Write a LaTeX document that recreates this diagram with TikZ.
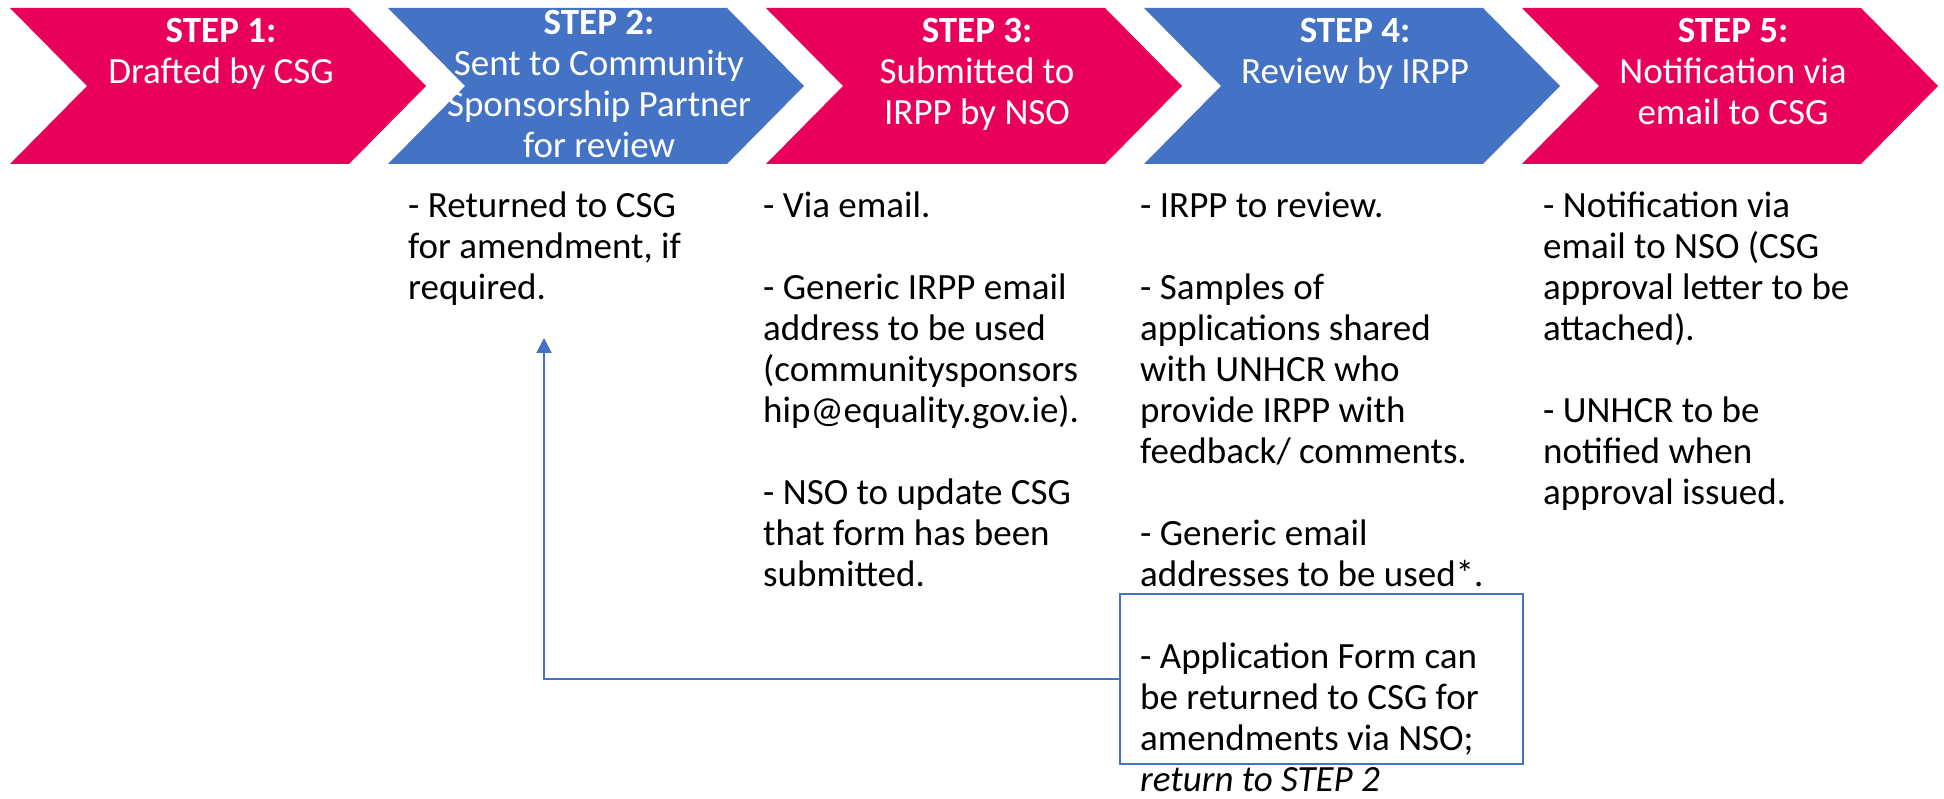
\documentclass[tikz,border=0pt]{standalone}
\usepackage{fontspec}
\setmainfont{Carlito}
\usetikzlibrary{arrows.meta}
\definecolor{stpink}{HTML}{E9005A}
\definecolor{stblue}{HTML}{4472C4}
\tikzset{
  chevtext/.style={anchor=base, inner sep=0pt, text=white, font=\fontsize{37pt}{41pt}\selectfont},
  coltext/.style={anchor=base west, inner sep=0pt, text=black, font=\fontsize{37pt}{41pt}\selectfont},
  retbox/.style={draw=stblue, line width=2pt, minimum width=403pt, minimum height=170pt, inner sep=0pt},
  retarrow/.style={draw=stblue, line width=2pt, -{Triangle[width=15pt,length=15pt]}},
}
\newcommand{\ctext}[1]{\parbox[t]{410pt}{\lineskiplimit=-20pt\centering #1}}
\newcommand{\ltext}[1]{\parbox[t]{460pt}{\lineskiplimit=-20pt\raggedright #1}}
\begin{document}
\begin{tikzpicture}[x=1pt,y=-1pt]
\useasboundingbox (0,0) rectangle (1944,799);
% chevrons
\foreach \L/\c in {10/stpink, 388/stblue, 766/stpink, 1144/stblue, 1522/stpink}{
  \fill[\c] (\L,8) -- ++(339,0) -- ++(77,78) -- ++(-77,78) -- ++(-339,0) -- ++(77,-78) -- cycle;
}
\node[chevtext] (s1) at (221,43) {\ctext{\textbf{STEP 1:}\\ Drafted by CSG}};
\node[chevtext] (s2) at (599,35) {\ctext{\textbf{STEP 2:}\\ Sent to Community\\ Sponsorship Partner\\ for review}};
\node[chevtext] (s3) at (977,43) {\ctext{\textbf{STEP 3:}\\ Submitted to\\ IRPP by NSO}};
\node[chevtext] (s4) at (1355,43) {\ctext{\textbf{STEP 4:}\\ Review by IRPP}};
\node[chevtext] (s5) at (1733,43) {\ctext{\textbf{STEP 5:}\\ Notification via\\ email to CSG}};
% column texts
\node[coltext] (c2) at (408,218) {\ltext{- Returned to CSG\\ for amendment, if\\ required.}};
\node[coltext] (c3) at (763,218) {\ltext{- Via email.\\ \mbox{}\\ - Generic IRPP email\\ address to be used\\ (communitysponsors\\ hip@equality.gov.ie).\\ \mbox{}\\ - NSO to update CSG\\ that form has been\\ submitted.}};
\node[coltext] (c4) at (1140,218) {\ltext{- IRPP to review.\\ \mbox{}\\ - Samples of\\ applications shared\\ with UNHCR who\\ provide IRPP with\\ feedback/ comments.\\ \mbox{}\\ - Generic email\\ addresses to be used*.\\ \mbox{}\\ - Application Form can\\ be returned to CSG for\\ amendments via NSO;\\ \textit{return to STEP 2}}};
\node[coltext] (c5) at (1543,218) {\ltext{- Notification via\\ email to NSO (CSG\\ approval letter to be\\ attached).\\ \mbox{}\\ - UNHCR to be\\ notified when\\ approval issued.}};
% return box and arrow
\node[retbox] (rbox) at (1321.5,679) {};
\coordinate (rettip) at (544,338);
\draw[retarrow] (rbox.west) -| (rettip);
\end{tikzpicture}
\end{document}
